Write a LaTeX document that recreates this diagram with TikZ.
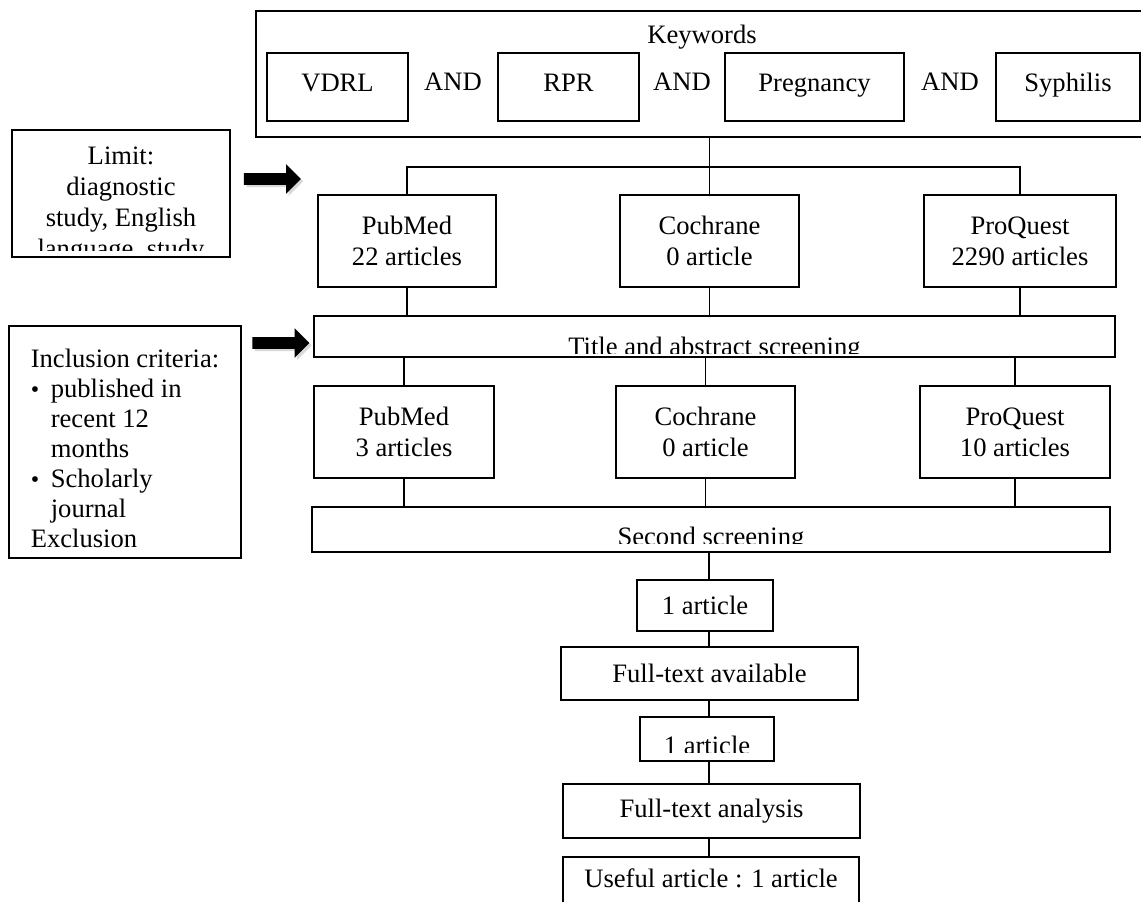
\documentclass[tikz,border=0pt]{standalone}
\usepackage{fontspec}
\setmainfont{Liberation Serif}
\usetikzlibrary{shapes.arrows,shadows}

\newcommand{\cuttext}[3]{%
  \clip ([yshift=#1]path picture bounding box.south west) rectangle (path picture bounding box.north east);
  \node[anchor=north, inner sep=0pt, minimum width=0pt, minimum height=0pt, align=center]
    at ([yshift=-#2]path picture bounding box.north) {#3};}
\newcommand{\dotitem}{\makebox[10pt][l]{\raisebox{0.3pt}{\fontsize{12pt}{12pt}\selectfont\textbullet}}}

\begin{document}
\begin{tikzpicture}[x=0.5pt, y=-0.5pt, line width=0.6pt,
  font=\fontsize{13.3pt}{15.5pt}\selectfont,
  box/.style={draw, inner sep=2pt, align=center},
  kwd/.style={box, minimum height=34pt, text height=9pt, text depth=5pt},
  fatarrow/.style={single arrow, fill=black, inner xsep=0pt, inner ysep=2.6pt,
    minimum height=28.5pt, single arrow head extend=4.5pt, single arrow head indent=0pt,
    drop shadow={opacity=0.3, shadow xshift=1.2pt, shadow yshift=-1.2pt}}]
\useasboundingbox (0,0) rectangle (1141,901);
\clip (0,0) rectangle (1141,901);

\node[box, minimum width=443.5pt, minimum height=63pt] (kwbox) at (699.5,74) {};
\node (kwtitle) at (702,37) {Keywords};
\node[kwd, minimum width=70.5pt] (vdrl) at (337.5,87) {VDRL};
\node (and1) at (453,82) {AND};
\node[kwd, minimum width=70.5pt] (rpr) at (568.5,87) {RPR};
\node (and2) at (682,82) {AND};
\node[kwd, minimum width=89.5pt] (preg) at (814.5,87) {Pregnancy};
\node (and3) at (950,82) {AND};
\node[kwd, minimum width=72pt] (syph) at (1068,87) {Syphilis};

\node[box, minimum width=109pt, minimum height=63.5pt,
  path picture={\cuttext{3.5pt}{8pt}{Limit:\\diagnostic\\study, English\\language, study}}] (limit) at (121,193.5) {};
\node[fatarrow] (limarrow) at (269.5,179) {};

\node[box, minimum width=116pt, minimum height=116pt, align=left,
  font=\fontsize{13.3pt}{15pt}\selectfont] (incl) at (125,442)
  {\rule{0pt}{16pt}Inclusion criteria:\\
   \dotitem published in\\
   \hspace*{10pt}recent 12\\
   \hspace*{10pt}months\\
   \dotitem Scholarly\\
   \hspace*{10pt}journal\\
   Exclusion};
\node[fatarrow] (incarrow) at (278,343) {};

\node[box, minimum width=89pt, minimum height=46pt] (pm1) at (407,241) {PubMed\\22 articles};
\node[box, minimum width=89.5pt, minimum height=46pt] (cr1) at (709.5,241) {Cochrane\\0 article};
\node[box, minimum width=96pt, minimum height=46pt] (pq1) at (1020,241) {ProQuest\\2290 articles};

\node[box, minimum width=400.5pt, minimum height=20.5pt,
  path picture={\cuttext{2pt}{10pt}{Title and abstract screening}}] (tas) at (714.5,336.5) {};

\node[box, minimum width=90pt, minimum height=46pt] (pm2) at (404,432) {PubMed\\3 articles};
\node[box, minimum width=89.5pt, minimum height=46pt] (cr2) at (705.5,432) {Cochrane\\0 article};
\node[box, minimum width=95pt, minimum height=46pt] (pq2) at (1015,432) {ProQuest\\10 articles};

\node[box, minimum width=399pt, minimum height=22.5pt,
  path picture={\cuttext{4.5pt}{9.5pt}{Second screening}}] (ss) at (711,529.5) {};

\node[box, minimum width=68pt, minimum height=25.5pt] (a1) at (705,605.5) {1 article};
\node[box, minimum width=148.5pt, minimum height=26.5pt] (fta) at (709.5,673.5) {Full-text available};
\node[box, minimum width=67pt, minimum height=22pt,
  path picture={\cuttext{4.5pt}{9pt}{1 article}}] (a2) at (707,739) {};
\node[box, minimum width=148.5pt, minimum height=27pt] (fa) at (711.5,811) {Full-text analysis};
\node[box, minimum width=148pt, minimum height=27.5pt,
  path picture={\cuttext{0pt}{5.5pt}{Useful article : 1 article}}] (ua) at (711,884.5) {};

\coordinate (bar) at (0,167);
\coordinate (spine) at (709,0);
\draw (kwbox.south -| cr1.north) -- (cr1.north);
\draw (pm1.north) -- (pm1.north |- bar) -- (pq1.north |- bar) -- (pq1.north);
\draw (pm1.south) -- (pm1.south |- tas.north);
\draw (cr1.south) -- (cr1.south |- tas.north);
\draw (pq1.south) -- (pq1.south |- tas.north);
\draw (pm2.north |- tas.south) -- (pm2.north);
\draw (cr2.north |- tas.south) -- (cr2.north);
\draw (pq2.north |- tas.south) -- (pq2.north);
\draw (pm2.south) -- (pm2.south |- ss.north);
\draw (cr2.south) -- (cr2.south |- ss.north);
\draw (pq2.south) -- (pq2.south |- ss.north);
\draw (ss.south -| spine) -- (a1.north -| spine);
\draw (a1.south -| spine) -- (fta.north -| spine);
\draw (fta.south -| spine) -- (a2.north -| spine);
\draw (a2.south -| spine) -- (fa.north -| spine);
\draw (fa.south -| spine) -- (ua.north -| spine);
\end{tikzpicture}
\end{document}
